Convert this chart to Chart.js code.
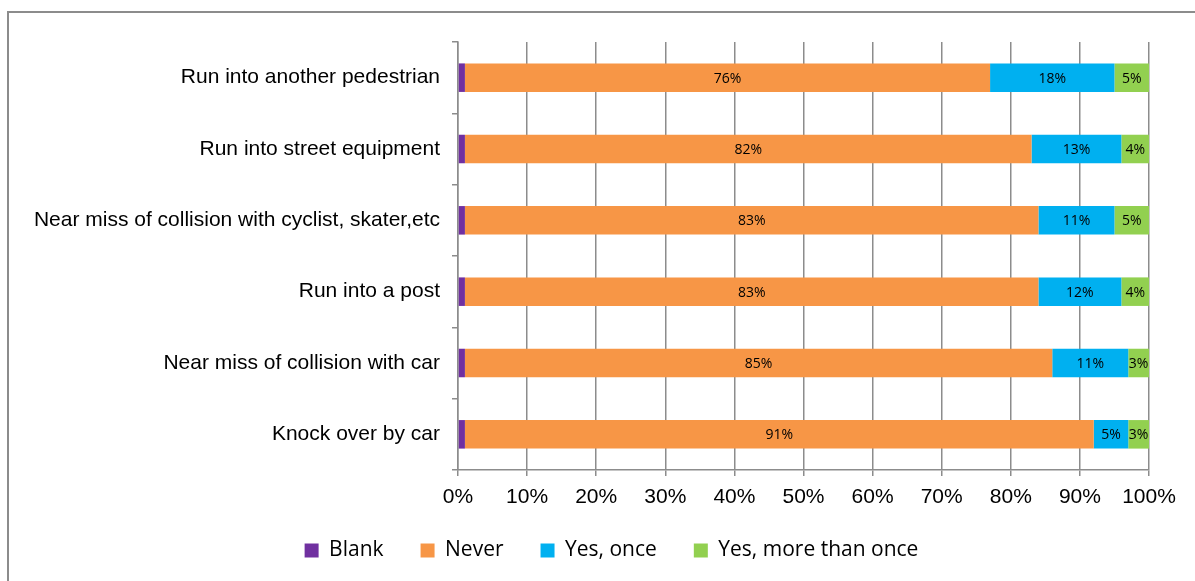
<!DOCTYPE html>
<html>
<head>
<meta charset="utf-8">
<script src="https://cdn.jsdelivr.net/npm/chart.js@4/dist/chart.umd.min.js"></script>
<style>
  html, body { margin: 0; padding: 0; background: #fff; }
  #frame { position: absolute; left: 7px; top: 11px; width: 1300px; height: 700px; border: 2px solid #8c8c8c; }
  #wrap { position: absolute; left: 0; top: 0; width: 1195px; height: 581px; }
</style>
</head>
<body>
<div id="frame"></div>
<div id="wrap"><canvas id="myChart" width="1195" height="581"></canvas></div>
<script>
const categories = [
    'Run into another pedestrian',
    'Run into street equipment',
    'Near miss of collision with cyclist, skater,etc',
    'Run into a post',
    'Near miss of collision with car',
    'Knock over by car'
];
const seriesNames = ['Blank', 'Never', 'Yes, once', 'Yes, more than once'];
const blank = [1, 1, 1, 1, 1, 1];
const never = [76, 82, 83, 83, 85, 91];
const yesOnce = [18, 13, 11, 12, 11, 5];
const yesMore = [5, 4, 5, 4, 3, 3];
const xTicks = [0, 10, 20, 30, 40, 50, 60, 70, 80, 90, 100];

const colors = ['#7030A0', '#F79646', '#00B0F0', '#92D050'];
const gridColor = '#8c8c8c';

// labels inside the segments, like the Excel original
const segmentLabels = {
    id: 'segmentLabels',
    afterDatasetsDraw(chart) {
        const ctx = chart.ctx;
        ctx.save();
        ctx.font = '14px "Open Sans", sans-serif';
        ctx.fillStyle = '#000';
        ctx.textAlign = 'center';
        ctx.textBaseline = 'middle';
        chart.data.datasets.forEach((ds, i) => {
            if (i === 0) return;
            chart.getDatasetMeta(i).data.forEach((bar, j) => {
                const c = bar.getCenterPoint();
                ctx.fillText(ds.data[j] + '%', c.x, c.y + 1);
            });
        });
        ctx.restore();
    }
};

// the legend sits a bit right of the plot centre in the original
const legendShift = {
    id: 'legendShift',
    beforeDraw(chart) {
        const lg = chart.legend;
        lg.left += 37;
        lg.right += 37;
        lg.top -= 7;
        lg.bottom -= 7;
    }
};

const seriesData = [blank, never, yesOnce, yesMore];

new Chart(document.getElementById('myChart').getContext('2d'), {
    type: 'bar',
    data: {
        labels: categories,
        datasets: seriesData.map((d, i) => ({
            label: seriesNames[i],
            data: d,
            backgroundColor: colors[i],
            barPercentage: 0.4,
            categoryPercentage: 1
        }))
    },
    options: {
        indexAxis: 'y',
        responsive: false,
        animation: false,
        layout: { padding: { top: 42, right: 46, left: 0, bottom: 3 } },
        scales: {
            x: {
                stacked: true,
                min: 0,
                max: 100,
                afterBuildTicks: scale => { scale.ticks = xTicks.map(v => ({ value: v })); },
                afterFit: scale => { scale.height = 40; },
                grid: { color: gridColor, lineWidth: 1.5, tickLength: 6 },
                border: { color: gridColor, width: 1.5 },
                ticks: {
                    color: '#000',
                    font: { family: 'Liberation Sans, Arial', size: 21 },
                    padding: 9,
                    callback: v => v + '%'
                }
            },
            y: {
                stacked: true,
                afterFit: scale => { scale.width = 458; },
                grid: { color: gridColor, lineWidth: 1.5, tickLength: 6, drawOnChartArea: false, offset: true },
                border: { color: gridColor, width: 1.5 },
                ticks: {
                    color: '#000',
                    font: { family: 'Liberation Sans, Arial', size: 21 },
                    padding: 12
                }
            }
        },
        plugins: {
            legend: {
                position: 'bottom',
                labels: {
                    color: '#000',
                    font: { family: 'Open Sans, sans-serif', size: 21 },
                    boxWidth: 14,
                    boxHeight: 14,
                    padding: 37
                }
            },
            tooltip: { enabled: false }
        }
    },
    plugins: [segmentLabels, legendShift]
});
</script>
</body>
</html>
